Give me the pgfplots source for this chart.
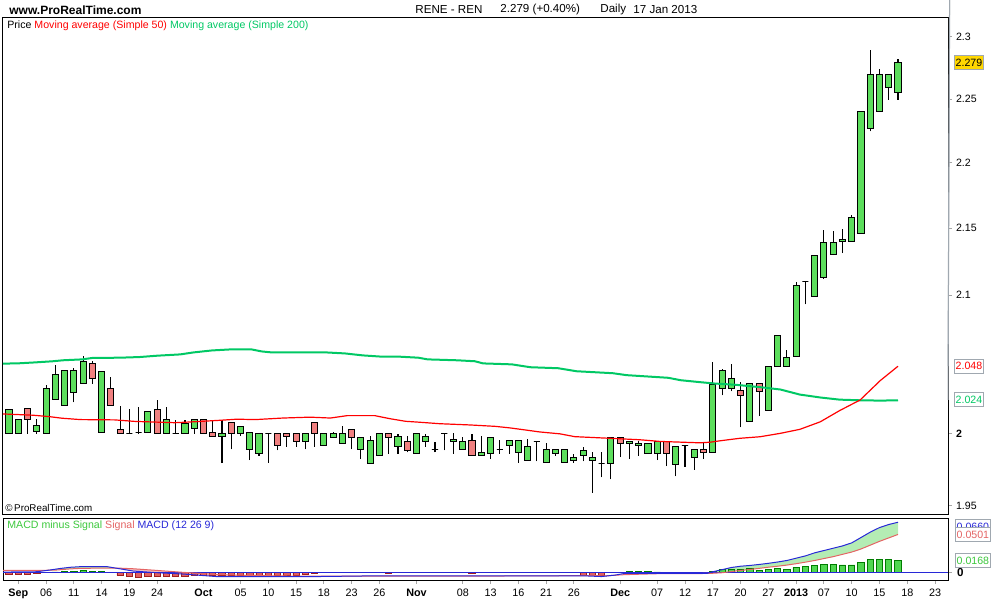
\documentclass[border=0pt]{standalone}
\usepackage{pgfplots}
\pgfplotsset{compat=1.18}
\usepackage{fontspec}
\setmainfont{Liberation Sans}

\definecolor{cup}{RGB}{92,222,92}
\definecolor{cdown}{RGB}{240,128,128}
\definecolor{ma50}{RGB}{255,0,0}
\definecolor{ma200}{RGB}{0,200,100}
\definecolor{macdblue}{RGB}{40,40,215}
\definecolor{sigred}{RGB}{228,100,100}
\definecolor{histgreen}{RGB}{80,215,80}
\definecolor{histgreenline}{RGB}{0,125,0}
\definecolor{histred}{RGB}{225,95,95}
\definecolor{histredline}{RGB}{160,30,30}
\definecolor{fillgreen}{RGB}{180,236,180}
\definecolor{fillred}{RGB}{246,190,190}
\definecolor{boxgray}{RGB}{160,168,176}
\definecolor{lastbox}{RGB}{255,215,0}
\definecolor{legmacd}{RGB}{60,200,60}

\tikzset{
  wick/.style={black, line width=0.55pt},
  body/.style={draw=black, line width=0.5pt},
  valbox/.style={anchor=west, draw=boxgray, fill=white, line width=0.5pt,
    inner xsep=0.6pt, inner ysep=0pt, minimum height=7pt,
    font=\fontsize{5.3}{6}\selectfont},
}

% one candle: index, open, high, low, close
\newcommand\candle[5]{%
  \pgfmathsetmacro\xa{#1-0.33}%
  \pgfmathsetmacro\xb{#1+0.33}%
  \ifdim #5pt<#2pt \def\bodycol{cdown}\else\def\bodycol{cup}\fi
  \edef\next{%
    \noexpand\addplot[wick] coordinates {(#1,#4) (#1,#3)};
    \noexpand\addplot[body,fill=\bodycol] coordinates {(\xa,#2) (\xb,#2) (\xb,#5) (\xa,#5)} --cycle;
  }\next}

\begin{document}
\begin{tikzpicture}
\useasboundingbox (0,0) rectangle (500pt,300pt);

% header
\node[anchor=west, inner sep=0, font=\bfseries\fontsize{6}{7}\selectfont] at (4.5pt,295pt) {www.ProRealTime.com};
\node[anchor=west, inner sep=0, font=\fontsize{5.8}{7}\selectfont] at (207.5pt,295pt) {RENE - REN};
\node[anchor=west, inner sep=0, font=\fontsize{5.8}{7}\selectfont] at (250pt,295pt) {2.279 (+0.40\%)};
\node[anchor=west, inner sep=0, font=\fontsize{5.8}{7}\selectfont] at (300pt,295pt) {Daily};
\node[anchor=west, inner sep=0, font=\fontsize{5.8}{7}\selectfont] at (316.5pt,295pt) {17 Jan 2013};

% ---------------- price panel ----------------
\begin{axis}[
  at={(1.5pt,291pt)}, anchor=north west,
  scale only axis, width=472.5pt, height=248.5pt,
  xmin=-0.65, xmax=101.4,
  ymode=log, ymin=1.9438, ymax=2.3152,
  xtick=\empty,
  ytick={1.95,2,2.1,2.15,2.2,2.25,2.3},
  yticklabels={1.95,\textbf{2},2.1,2.15,2.2,2.25,2.3},
  ytick pos=right, yticklabel pos=right,
  tick align=outside, major tick length=2pt,
  major tick style={draw=gray!70, line width=0.5pt},
  minor tick style={draw=none},
  yticklabel style={anchor=west, font=\fontsize{5.3}{6}\selectfont, xshift=-1.5pt},
  axis line style={black, line width=0.5pt},
  clip=false,
]
\candle{0}{2.000}{2.017}{2.000}{2.017}
\candle{1}{2.000}{2.010}{2.000}{2.010}
\candle{2}{2.0175}{2.0175}{2.000}{2.0097}
\candle{3}{2.0012}{2.0106}{2.000}{2.0054}
\candle{4}{2.000}{2.0346}{2.000}{2.0322}
\candle{5}{2.0245}{2.0489}{2.0245}{2.0423}
\candle{6}{2.0196}{2.0448}{2.0196}{2.0448}
\candle{7}{2.0289}{2.0470}{2.0222}{2.0448}
\candle{8}{2.0353}{2.0557}{2.0353}{2.0518}
\candle{9}{2.0498}{2.0518}{2.0353}{2.0395}
\candle{10}{2.0005}{2.0448}{2.0005}{2.0441}
\candle{11}{2.0322}{2.0405}{2.0196}{2.0196}
\candle{12}{2.0026}{2.0196}{2.000}{2.000}
\candle{13}{2.000}{2.0177}{2.000}{2.000}
\candle{14}{2.0005}{2.019}{1.9998}{2.0005}
\candle{15}{2.0005}{2.0154}{2.0005}{2.0154}
\candle{16}{2.0168}{2.0241}{2.000}{2.000}
\candle{17}{2.000}{2.019}{2.000}{2.0097}
\candle{18}{2.000}{2.0098}{2.000}{2.000}
\candle{19}{2.000}{2.0099}{2.000}{2.0073}
\candle{20}{2.0033}{2.0106}{2.000}{2.0097}
\candle{21}{2.0097}{2.0097}{2.000}{2.000}
\candle{22}{2.0005}{2.0097}{1.9984}{1.9984}
\candle{23}{1.9984}{2.0097}{1.9795}{2.000}
\candle{24}{2.0075}{2.0075}{1.9892}{2.000}
\candle{25}{2.000}{2.0047}{1.9984}{2.0047}
\candle{26}{1.9892}{2.0005}{1.9816}{2.0005}
\candle{27}{1.9859}{2.000}{1.9845}{2.000}
\candle{28}{2.000}{2.000}{1.9801}{2.000}
\candle{29}{2.000}{2.000}{1.9886}{1.9915}
\candle{30}{2.000}{2.000}{1.9908}{1.9984}
\candle{31}{2.000}{2.000}{1.9908}{1.9944}
\candle{32}{1.9944}{2.000}{1.9892}{2.000}
\candle{33}{2.0075}{2.0075}{1.9908}{2.000}
\candle{34}{1.9915}{2.000}{1.9915}{2.000}
\candle{35}{1.9977}{2.0012}{1.9977}{2.000}
\candle{36}{1.9929}{2.0056}{1.9929}{2.000}
\candle{37}{2.0026}{2.0026}{1.9892}{1.9977}
\candle{38}{1.9892}{1.9977}{1.9824}{1.9977}
\candle{39}{1.9795}{1.9984}{1.9795}{1.9956}
\candle{40}{1.9844}{2.000}{1.9844}{2.000}
\candle{41}{2.000}{2.000}{1.986}{1.9977}
\candle{42}{1.9908}{2.000}{1.986}{1.9984}
\candle{43}{1.9944}{1.9984}{1.9872}{1.9886}
\candle{44}{1.986}{2.000}{1.986}{2.000}
\candle{45}{1.9944}{2.000}{1.9908}{1.9984}
\candle{46}{1.9892}{1.9944}{1.9872}{1.9892}
\candle{47}{2.000}{2.000}{1.9886}{2.000}
\candle{48}{1.9944}{2.0005}{1.9865}{1.9964}
\candle{49}{1.9892}{1.9977}{1.9892}{1.9944}
\candle{50}{1.9956}{2.000}{1.9844}{1.9844}
\candle{51}{1.9844}{1.9984}{1.9844}{1.9872}
\candle{52}{1.986}{1.9977}{1.9824}{1.9977}
\candle{53}{1.9892}{1.9956}{1.986}{1.9892}
\candle{54}{1.9915}{1.9956}{1.986}{1.9956}
\candle{55}{1.9872}{1.9956}{1.9801}{1.9956}
\candle{56}{1.9818}{1.9963}{1.9818}{1.9908}
\candle{57}{1.9944}{1.9944}{1.9808}{1.9944}
\candle{58}{1.9801}{1.9936}{1.9801}{1.9892}
\candle{59}{1.986}{1.9892}{1.9844}{1.9892}
\candle{60}{1.9801}{1.9892}{1.9801}{1.9892}
\candle{61}{1.9818}{1.986}{1.9801}{1.9837}
\candle{62}{1.9844}{1.9908}{1.9808}{1.9886}
\candle{63}{1.9818}{1.9872}{1.959}{1.9837}
\candle{64}{1.9795}{1.9872}{1.9697}{1.9795}
\candle{65}{1.9795}{1.9977}{1.9683}{1.9977}
\candle{66}{1.9977}{1.9977}{1.9837}{1.9936}
\candle{67}{1.9936}{1.9944}{1.9824}{1.9944}
\candle{68}{1.9915}{1.995}{1.9844}{1.9929}
\candle{69}{1.986}{1.9936}{1.986}{1.9936}
\candle{70}{1.986}{1.9944}{1.9816}{1.9944}
\candle{71}{1.9944}{1.9944}{1.9774}{1.986}
\candle{72}{1.9788}{1.991}{1.9704}{1.991}
\candle{73}{1.9916}{1.9916}{1.9772}{1.9916}
\candle{74}{1.9837}{1.9892}{1.975}{1.9892}
\candle{75}{1.9892}{1.9936}{1.9824}{1.9872}
\candle{76}{1.9872}{2.0508}{1.9872}{2.0351}
\candle{77}{2.032}{2.0457}{2.0271}{2.0447}
\candle{78}{2.032}{2.0499}{2.0299}{2.0392}
\candle{79}{2.0304}{2.037}{2.0044}{2.0268}
\candle{80}{2.0083}{2.0353}{2.0083}{2.0353}
\candle{81}{2.0353}{2.0353}{2.0123}{2.0296}
\candle{82}{2.0165}{2.0482}{2.0165}{2.0482}
\candle{83}{2.0479}{2.070}{2.0479}{2.070}
\candle{84}{2.0479}{2.060}{2.0479}{2.0547}
\candle{85}{2.0554}{2.1094}{2.0554}{2.1075}
\candle{86}{2.1099}{2.1099}{2.0931}{2.1099}
\candle{87}{2.099}{2.1298}{2.099}{2.1298}
\candle{88}{2.1131}{2.1488}{2.1119}{2.1396}
\candle{89}{2.1305}{2.1481}{2.1298}{2.1396}
\candle{90}{2.1403}{2.1496}{2.1313}{2.1418}
\candle{91}{2.140}{2.1602}{2.140}{2.1585}
\candle{92}{2.1463}{2.2399}{2.1463}{2.2399}
\candle{93}{2.2271}{2.2893}{2.2245}{2.2699}
\candle{94}{2.2405}{2.2739}{2.2405}{2.2699}
\candle{95}{2.2595}{2.2699}{2.2494}{2.2699}
\candle{96}{2.2548}{2.2818}{2.2494}{2.279}

% Moving average (Simple 200)
\addplot[ma200, line width=1pt] coordinates {
  (-0.65,2.0499) (0.86,2.0501) (2.8,2.0508) (4.75,2.0516) (5.8,2.0523)
  (7.9,2.0530) (9.0,2.0540) (12.0,2.0542) (14.1,2.0547) (16.0,2.0556)
  (18.5,2.0566) (19.9,2.0580) (21.9,2.0595) (23.9,2.0602) (26.2,2.0602)
  (27.3,2.0587) (28.4,2.0580) (34.3,2.0580) (36.3,2.0573) (38.2,2.0559)
  (40.3,2.0549) (42.2,2.0549) (44.2,2.0542) (45.2,2.0530) (48.4,2.0523)
  (50.3,2.0516) (51.2,2.0501) (54.3,2.0494) (56.3,2.0473) (59.3,2.0466)
  (61.3,2.0444) (65.2,2.0430) (66.7,2.0416) (71.2,2.0397) (72.5,2.0380)
  (74.6,2.0366) (76.2,2.0356) (78.4,2.0347) (81.1,2.0330) (83.3,2.0313)
  (85.4,2.0277) (87.6,2.0256) (89.7,2.0241) (91.9,2.0236) (94.1,2.0234)
  (96,2.0236)
};
% Moving average (Simple 50)
\addplot[ma50, line width=0.6pt] coordinates {
  (-0.65,2.0139) (2.6,2.0130) (4.4,2.0120) (5.7,2.0109) (7.7,2.0099)
  (11.4,2.0097) (13.6,2.0086) (17.9,2.0077) (19.5,2.0082) (22.8,2.0094)
  (24.6,2.0102) (26.6,2.0099) (27.6,2.0103) (29.6,2.0110) (32.5,2.0116)
  (34.7,2.0110) (36.5,2.0127) (39.5,2.0127) (41.1,2.0106) (42.8,2.0087)
  (44.4,2.0080) (46.5,2.0070) (49.8,2.0061) (52.5,2.0051) (54.1,2.0040)
  (55.7,2.0026) (57.3,2.0012) (59.5,2.0000) (61.1,1.9982) (64.9,1.9970)
  (68.1,1.9958) (70.3,1.9947) (74.6,1.9938) (75.7,1.9942) (76.8,1.9953)
  (78.9,1.9970) (81.1,1.9981) (83.3,2.0002) (85.4,2.0030) (87.6,2.0083)
  (89.7,2.0163) (91.9,2.0238) (94.1,2.0378) (96,2.0480)
};

% value boxes on the right
\draw[boxgray, line width=0.5pt] (axis cs:101.4,2.048) -- ++(3pt,0);
\draw[boxgray, line width=0.5pt] (axis cs:101.4,2.024) -- ++(3pt,0);
\node[valbox, fill=lastbox, xshift=3pt] at (axis cs:101.4,2.279) {2.279};
\node[valbox, text=ma50, xshift=3pt] at (axis cs:101.4,2.048) {2.048};
\node[valbox, text=ma200, xshift=3pt] at (axis cs:101.4,2.024) {2.024};

\node[anchor=west, inner sep=0, font=\fontsize{5.3}{6}\selectfont] at (rel axis cs:0,1) [xshift=2pt, yshift=-4pt]
  {Price \textcolor{ma50}{Moving average (Simple 50)} \textcolor{ma200}{Moving average (Simple 200)}};
\node[anchor=west, inner sep=0, font=\fontsize{4.9}{6}\selectfont] at (rel axis cs:0,0) [xshift=1pt, yshift=3.5pt]
  {\textcopyright\,ProRealTime.com};
\end{axis}

% ---------------- MACD panel ----------------
\begin{axis}[
  at={(1.5pt,41pt)}, anchor=north west,
  scale only axis, width=472.5pt, height=31pt,
  xmin=-0.65, xmax=101.4, ymin=-0.0095, ymax=0.0715,
  scaled y ticks=false,
  xtick={1,4,7,10,13,16,21,25,28,31,34,37,40,44,49,52,55,58,61,66,70,73,76,79,82,85,88,91,94,97,100},
  xticklabels={\textbf{Sep},06,11,14,19,24,\textbf{Oct},05,10,15,18,23,26,\textbf{Nov},08,13,16,21,26,\textbf{Dec},07,12,17,20,27,\textbf{2013},07,10,15,18,23},
  xtick pos=bottom,
  ytick={0}, yticklabels={\textbf{0}},
  ytick pos=right, yticklabel pos=right,
  tick align=outside, major tick length=2pt,
  major tick style={draw=gray!70, line width=0.5pt},
  xticklabel style={font=\fontsize{5.4}{6}\selectfont, yshift=1pt},
  yticklabel style={anchor=west, font=\fontsize{5.8}{6}\selectfont, xshift=-1pt},
  axis line style={black, line width=0.5pt},
  clip=false,
]
% shaded area between MACD and Signal
\addplot[fill=fillgreen, draw=none] coordinates {
  (4.2,0.0031) (5.5,0.0055) (6.6,0.0071) (7.7,0.0079) (9,0.0080) (10.6,0.0079) (11.5,0.0061)
  (10.6,0.0061) (7.7,0.0057) (6.6,0.0050) (5,0.0034)
} --cycle;
\addplot[fill=fillred, draw=none] coordinates {
  (11.5,0.0061) (13.4,0.0052) (16,0.0030) (18.8,0.0005) (22.4,-0.0023) (26,-0.0035)
  (30.7,-0.0044) (33.2,-0.0045) (38.6,-0.0045)
  (33.2,-0.0050) (30.7,-0.0052) (26,-0.0052) (22.4,-0.0050) (18.8,-0.0017) (16,0.0000)
  (13.4,0.0022) (11.7,0.0057)
} --cycle;
\addplot[fill=fillgreen, draw=none] coordinates {
  (75.4,-0.0008) (76,0.0013) (77,0.0040) (78,0.0068) (79,0.0085) (80,0.0095) (81,0.0108)
  (82,0.0123) (83,0.0140) (84,0.0160) (85,0.0190) (86,0.0220) (87,0.0260) (88,0.0290)
  (89,0.0320) (90,0.0350) (91,0.0390) (92,0.0460) (93,0.0530) (94,0.0590) (95,0.0630)
  (96,0.0660)
  (96,0.0500) (95,0.0455) (94,0.0410) (93,0.0360) (92,0.0310) (91,0.0270) (90,0.0240)
  (89,0.0210) (88,0.0185) (87,0.0160) (86,0.0138) (85,0.0118) (84,0.0100) (83,0.0085)
  (82,0.0072) (81,0.0057) (80,0.0042) (79,0.0030) (78,0.0015) (77,0.0000) (76,-0.0007)
  (75.4,-0.0009)
} --cycle;
% MACD minus Signal
\addplot[ybar, bar width=0.68, bar shift=0pt, fill=histgreen, draw=histgreenline, line width=0.4pt] coordinates {
  (4,0.0005) (5,0.0010) (6,0.0020) (7,0.0020) (8,0.0025) (9,0.0020) (10,0.0020)
  (66,0.0005) (67,0.0015) (68,0.0015) (69,0.0015) (70,0.0010) (72,0.0003) (73,0.0005)
  (76,0.0022) (77,0.0045) (78,0.0045) (79,0.0045) (80,0.0058) (81,0.0035) (82,0.0045)
  (83,0.0058) (84,0.0045) (85,0.0071) (86,0.0084) (87,0.0097) (88,0.0110) (89,0.0110)
  (90,0.0101) (91,0.0101) (92,0.0136) (93,0.0175) (94,0.0175) (95,0.0175) (96,0.0165)
};
\addplot[ybar, bar width=0.68, bar shift=0pt, fill=histred, draw=histredline, line width=0.4pt] coordinates {
  (0,-0.0020) (1,-0.0020) (2,-0.0020) (3,-0.0015) (12,-0.0035) (13,-0.0045) (14,-0.0060)
  (15,-0.0050) (16,-0.0050) (17,-0.0048) (18,-0.0048) (19,-0.0048) (20,-0.0030) (21,-0.0030)
  (22,-0.0040) (23,-0.0030) (24,-0.0030) (25,-0.0030) (26,-0.0030) (27,-0.0030) (28,-0.0030)
  (29,-0.0030) (30,-0.0030) (31,-0.0030) (32,-0.0020) (33,-0.0010) (41,-0.0010) (50,-0.0010)
  (62,-0.0030) (63,-0.0030) (64,-0.0040) (75,-0.0015)
};
% zero line
\addplot[macdblue, line width=0.5pt] coordinates {(-0.65,0) (101.4,0)};
% Signal
\addplot[sigred, line width=0.5pt] coordinates {
  (-0.65,0.0031) (3.3,0.0031) (5,0.0034) (6.6,0.0050) (7.7,0.0057) (10.6,0.0061)
  (11.7,0.0061) (13.4,0.0052) (16,0.0030) (18.8,0.0005) (22.4,-0.0023) (26,-0.0035)
  (30.7,-0.0044) (33.2,-0.0045) (38.6,-0.0045) (53,-0.0043) (62,-0.0038) (64.5,-0.0040)
  (66.5,-0.0025) (70,-0.0013) (75,-0.0010) (76,-0.0007) (77,0.0000) (78,0.0015)
  (79,0.0030) (80,0.0042) (81,0.0057) (82,0.0072) (83,0.0085) (84,0.0100) (85,0.0118)
  (86,0.0138) (87,0.0160) (88,0.0185) (89,0.0210) (90,0.0240) (91,0.0270) (92,0.0310)
  (93,0.0360) (94,0.0410) (95,0.0455) (96,0.0500)
};
% MACD (12 26 9)
\addplot[macdblue, line width=0.5pt] coordinates {
  (-0.65,0.0009) (1,0.0010) (3,0.0013) (4.4,0.0035) (5.5,0.0055) (6.6,0.0071)
  (7.7,0.0079) (9,0.0080) (10.6,0.0079) (11.7,0.0057) (13.4,0.0022) (16,0.0000)
  (18.8,-0.0017) (22.4,-0.0050) (26,-0.0052) (30.7,-0.0052) (33.2,-0.0050) (38.6,-0.0042)
  (53,-0.0042) (62,-0.0040) (64,-0.0050) (65.5,-0.0030) (66.5,-0.0008) (75.4,-0.0008)
  (76,0.0013) (77,0.0040) (78,0.0068) (79,0.0085) (80,0.0095) (81,0.0108) (82,0.0123)
  (83,0.0140) (84,0.0160) (85,0.0190) (86,0.0220) (87,0.0260) (88,0.0290) (89,0.0320)
  (90,0.0350) (91,0.0390) (92,0.0460) (93,0.0530) (94,0.0590) (95,0.0630) (96,0.0660)
};

\node[valbox, text=macdblue, xshift=3.5pt] at (axis cs:101.4,0.0603) {0.0660};
\node[valbox, text=sigred, xshift=3.5pt] at (axis cs:101.4,0.0494) {0.0501};
\node[valbox, text=legmacd, xshift=3.5pt] at (axis cs:101.4,0.0160) {0.0168};

\node[anchor=west, inner sep=0, font=\fontsize{5.3}{6}\selectfont] at (rel axis cs:0,1) [xshift=2pt, yshift=-4pt]
  {\textcolor{legmacd}{MACD minus Signal} \textcolor{sigred}{Signal} \textcolor{macdblue}{MACD (12 26 9)}};
\end{axis}
\end{tikzpicture}
\end{document}
